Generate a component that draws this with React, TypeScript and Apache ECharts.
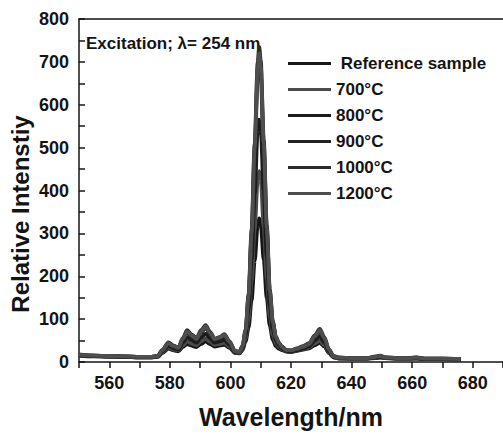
import React, { useEffect, useRef } from "react";
import * as echarts from "echarts";

const wavelengths = [550, 555, 560, 565, 570, 574, 576, 577.5, 579.5, 581.3, 582.8, 584.3, 585.7, 587.2, 588.8, 590.3, 591.8, 593.3, 594.8, 596.4, 598, 599.7, 601.5, 603, 604, 605, 606, 607, 608, 609, 609.5, 610, 611, 612, 613, 614, 615, 616, 617, 618.5, 620, 622, 624, 626, 627.8, 629.5, 631, 632.5, 634, 636, 640, 645, 648, 649.5, 651, 655, 659, 661.5, 664, 670, 676];

const referenceSample = [15, 13, 12, 12, 11, 11, 12, 21, 31, 27, 25, 35, 42, 38, 35, 42, 48, 42, 36, 38, 40, 33, 21, 20, 28, 48, 80, 145, 235, 318, 335, 322, 238, 150, 84, 52, 37, 31, 28, 24, 23, 26, 29, 32, 39, 45, 36, 21, 11, 8, 8, 8, 9, 10, 9, 8, 8, 8, 7, 7, 6];
const sample700 = [15, 14, 13, 12, 11, 11, 13, 22, 34, 29, 27, 39, 48, 43, 39, 48, 55, 47, 40, 42, 45, 36, 22, 21, 30, 55, 100, 190, 310, 423, 445, 428, 316, 196, 106, 63, 43, 35, 30, 25, 24, 27, 30, 34, 43, 50, 39, 22, 11, 8, 8, 8, 10, 11, 9, 8, 8, 8, 7, 7, 6];
const sample800 = [16, 14, 13, 12, 11, 11, 13, 24, 38, 32, 29, 45, 58, 51, 45, 57, 66, 55, 45, 48, 52, 40, 23, 22, 33, 62, 125, 240, 392, 538, 565, 542, 400, 248, 132, 76, 50, 39, 32, 26, 25, 28, 32, 37, 50, 60, 46, 25, 12, 9, 8, 8, 11, 12, 10, 8, 8, 9, 7, 7, 6];
const sample900 = [16, 15, 14, 13, 12, 12, 14, 26, 42, 36, 32, 52, 68, 60, 52, 68, 80, 66, 51, 55, 61, 46, 25, 23, 36, 71, 150, 292, 485, 665, 700, 672, 495, 305, 160, 90, 57, 43, 35, 27, 26, 30, 35, 41, 58, 71, 54, 28, 13, 10, 9, 9, 12, 13, 10, 9, 9, 10, 8, 8, 7];
const sample1000 = [17, 15, 14, 13, 12, 12, 14, 28, 46, 38, 34, 56, 74, 64, 56, 74, 86, 70, 54, 58, 65, 48, 26, 24, 38, 75, 160, 310, 510, 700, 735, 705, 520, 320, 170, 95, 60, 45, 36, 28, 27, 32, 37, 44, 62, 77, 58, 30, 14, 10, 9, 9, 13, 15, 11, 9, 9, 11, 8, 8, 7];
const sample1200 = [17, 15, 14, 13, 12, 12, 14, 27, 44, 37, 33, 54, 71, 62, 54, 71, 83, 68, 53, 57, 63, 47, 25, 23, 37, 73, 155, 300, 500, 685, 720, 690, 510, 312, 165, 92, 58, 44, 35, 28, 27, 31, 36, 42, 60, 74, 56, 29, 13, 10, 9, 9, 12, 14, 11, 9, 9, 10, 8, 8, 7];

const seriesNames = ["Reference sample", "700°C", "800°C", "900°C", "1000°C", "1200°C"];
const seriesValues = [referenceSample, sample700, sample800, sample900, sample1000, sample1200];
const seriesColors = ["#161616", "#4a4a4a", "#1c1c1c", "#222222", "#2c2c2c", "#4e4e4e"];

const xLabelTicks = [560, 580, 600, 620, 640, 660, 680];
const yLabelTicks = [0, 100, 200, 300, 400, 500, 600, 700, 800];

const FONT = "'Liberation Sans', Arial, Helvetica, sans-serif";
const INK = "#141414";

export default function App() {
  const ref = useRef<HTMLDivElement>(null);

  useEffect(() => {
    if (!ref.current) return;
    const chart = echarts.init(ref.current, null, { renderer: "svg" });
    const option: any = {
      animation: false,
      backgroundColor: "#ffffff",
      grid: { left: 79, right: 0, top: 19, bottom: 67 },
      legend: {
        orient: "vertical",
        left: 288,
        top: 54,
        padding: 0,
        icon: "rect",
        itemWidth: 43,
        itemHeight: 3,
        itemGap: 7,
        data: seriesNames,
        formatter: (name: string) => (name === "Reference sample" ? " " + name : name),
        textStyle: { fontSize: 17, fontWeight: "bold", color: INK, fontFamily: FONT, lineHeight: 19 },
      },
      xAxis: [
        {
          type: "value",
          min: 550,
          max: 690,
          interval: 10,
          name: "Wavelength/nm",
          nameLocation: "middle",
          nameGap: 42,
          nameTextStyle: { fontSize: 25, fontWeight: "bold", color: INK, fontFamily: FONT },
          axisLine: { show: true, onZero: false, lineStyle: { color: INK, width: 1.5 } },
          axisTick: { show: true, inside: false, length: 6, lineStyle: { color: INK, width: 1.5 } },
          axisLabel: {
            margin: 12,
            fontSize: 18,
            fontWeight: "bold",
            color: INK,
            fontFamily: FONT,
            formatter: (v: number) => (xLabelTicks.includes(v) ? String(v) : ""),
          },
          splitLine: { show: false },
        },
        {
          type: "value",
          position: "top",
          min: 550,
          max: 690,
          axisLine: { show: true, onZero: false, lineStyle: { color: INK, width: 1.5 } },
          axisTick: { show: false },
          axisLabel: { show: false },
          splitLine: { show: false },
        },
      ],
      yAxis: {
        type: "value",
        min: 0,
        max: 800,
        interval: 50,
        axisLine: { show: true, onZero: false, lineStyle: { color: INK, width: 1.5 } },
        axisTick: { show: true, inside: true, length: 6, lineStyle: { color: INK, width: 1.5 } },
        axisLabel: {
          margin: 10,
          fontSize: 18,
          fontWeight: "bold",
          color: INK,
          fontFamily: FONT,
          formatter: (v: number) => (yLabelTicks.includes(v) ? String(v) : ""),
        },
        splitLine: { show: false },
      },
      graphic: [
        {
          type: "text",
          x: 86,
          y: 43,
          style: {
            text: "Excitation; λ= 254 nm",
            fontSize: 17,
            fontWeight: "bold",
            fontFamily: FONT,
            fill: INK,
            align: "left",
            verticalAlign: "middle",
          },
        },
        {
          type: "text",
          x: 20,
          y: 214,
          rotation: Math.PI / 2,
          style: {
            text: "Relative Intenstiy",
            fontSize: 24,
            fontWeight: "bold",
            fontFamily: FONT,
            fill: INK,
            align: "center",
            verticalAlign: "middle",
          },
        },
      ],
      series: seriesNames.map((name, i) => ({
        name,
        type: "line",
        xAxisIndex: 0,
        data: wavelengths.map((w, j) => [w, seriesValues[i][j]]),
        showSymbol: false,
        smooth: 0.3,
        smoothMonotone: "x",
        color: seriesColors[i],
        lineStyle: { width: 3.8, color: seriesColors[i] },
      })),
    };
    chart.setOption(option);
    return () => chart.dispose();
  }, []);

  return (
    <div
      ref={ref}
      style={{ position: "fixed", left: 0, top: 0, width: 506, height: 434, background: "#fff" }}
    />
  );
}
